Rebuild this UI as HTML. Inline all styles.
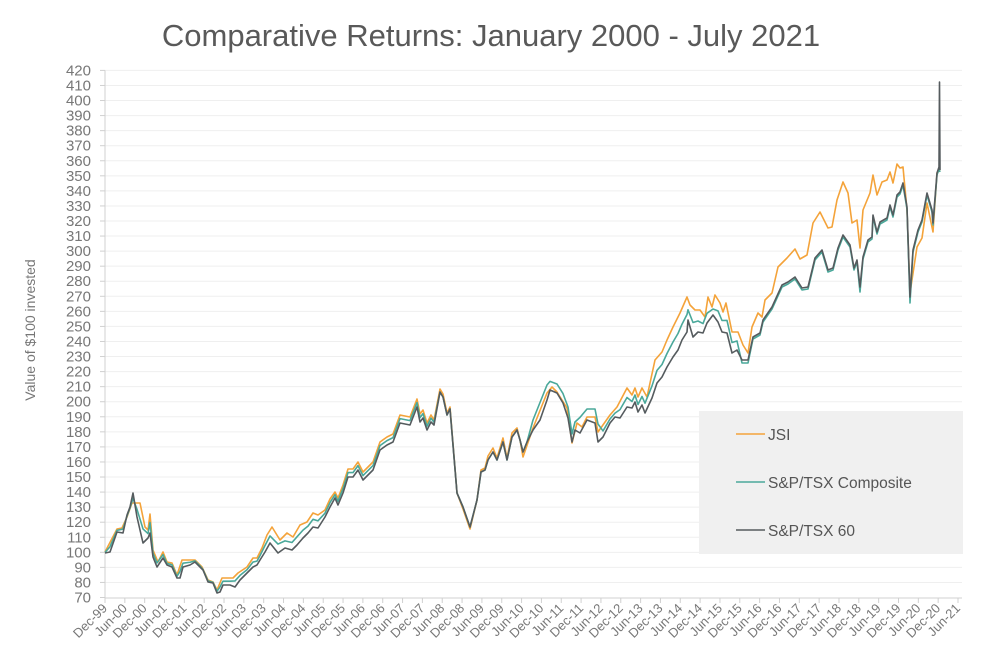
<!DOCTYPE html>
<html><head><meta charset="utf-8">
<style>
html,body{margin:0;padding:0;background:#fff;}
svg{display:block;font-family:"Liberation Sans",sans-serif;}
</style></head>
<body>
<svg id="c" width="983" height="669" xmlns="http://www.w3.org/2000/svg">
<text x="491" y="46" text-anchor="middle" font-size="31" fill="#595959">Comparative Returns: January 2000 - July 2021</text>
<text transform="translate(35,330) rotate(-90)" text-anchor="middle" font-size="14" fill="#777">Value of $100 invested</text>
<g id="grid"></g>
<g id="ylab" font-size="15" fill="#777" text-anchor="end"></g>
<g id="xlab" font-size="13" fill="#777" text-anchor="end"></g>
<rect x="699" y="411" width="264" height="143" fill="#f0f0f0"/>
<line x1="736" y1="434" x2="765" y2="434" stroke="#f4a33a" stroke-width="1.5"/>
<line x1="736" y1="482" x2="765" y2="482" stroke="#4aa89a" stroke-width="1.5"/>
<line x1="736" y1="530" x2="765" y2="530" stroke="#555b5e" stroke-width="1.5"/>
<text x="768" y="440" font-size="15.5" fill="#555">JSI</text>
<text x="768" y="488" font-size="15.5" fill="#555">S&amp;P/TSX Composite</text>
<text x="768" y="536" font-size="15.5" fill="#555">S&amp;P/TSX 60</text>
<g id="series"></g>
</svg>
<script>
var NS="http://www.w3.org/2000/svg";
function el(t,a,p,txt){var e=document.createElementNS(NS,t);for(var k in a)e.setAttribute(k,a[k]);if(txt)e.textContent=txt;p.appendChild(e);return e;}
var g=document.getElementById('grid'),yl=document.getElementById('ylab'),xl=document.getElementById('xlab'),sr=document.getElementById('series');
function Y(v){return 597.5-(v-70)*1.506;}
for(var v=70;v<=420;v+=10){var y=Y(v);
 if(v>70)el('line',{x1:105,x2:962,y1:y,y2:y,stroke:'#efefef','stroke-width':1},g);
 el('line',{x1:100,x2:105,y1:y,y2:y,stroke:'#d0d0d0','stroke-width':1},g);
 el('text',{x:91,y:y+5},yl,String(v));}
el('line',{x1:105,x2:105,y1:Y(420),y2:598,stroke:'#d0d0d0','stroke-width':1},g);
el('line',{x1:105,x2:962,y1:598,y2:598,stroke:'#d0d0d0','stroke-width':1},g);
var sp=(958-105)/43;
for(var i=0;i<=43;i++){var x=105+i*sp;var yr=(i>>1);var lab;
 if(i%2==0){lab='Dec-'+String((99+yr)%100).padStart(2,'0');}else{lab='Jun-'+String((yr+0)%100).padStart(2,'0');}
 el('line',{x1:x,x2:x,y1:598,y2:603,stroke:'#d0d0d0'},g);
 el('text',{x:x+3,y:609,transform:'rotate(-45 '+(x+3)+' 609)'},xl,lab);}
var dark=[[105,553],[110,552],[117,532],[123,533],[127,515],[130,507],[133,493],[137,517],[143,543],[148,538],[150,533],[153,557],[157,567],[163,558],[167,565],[172,567],[177,578],[180,578],[183,567],[190,565],[195,562],[200,567],[203,570],[208,582],[213,583],[217,593],[220,592],[223,585],[230,585],[235,587],[240,580],[247,573],[253,567],[257,565],[260,560],[265,552],[270,543],[278,553],[285,548],[292,550],[297,545],[303,538],[308,533],[313,527],[318,528],[325,517],[330,507],[335,498],[338,505],[343,493],[348,477],[353,477],[358,470],[363,480],[368,475],[373,470],[380,450],[387,445],[393,442],[400,423],[410,425],[417,407],[420,422],[423,418],[427,430],[431,422],[434,425],[440,392],[443,397],[447,415],[450,409],[457,493],[463,507],[470,527],[477,500],[481,472],[485,470],[488,460],[493,452],[497,460],[503,442],[507,460],[512,437],[517,430],[520,440],[523,452],[527,442],[533,430],[540,420],[547,400],[550,390],[557,393],[563,403],[568,418],[572,442],[575,430],[580,433],[587,420],[595,423],[598,442],[603,437],[610,423],[615,417],[620,418],[627,407],[632,408],[635,402],[638,412],[642,405],[645,413],[652,398],[657,383],[662,377],[667,367],[673,357],[678,350],[682,340],[687,332],[688,320],[693,337],[698,332],[703,333],[707,323],[713,315],[718,322],[722,332],[727,333],[732,353],[737,350],[742,360],[748,360],[753,337],[760,333],[763,320],[772,307],[782,285],[788,282],[795,277],[802,288],[808,287],[815,258],[822,250],[828,270],[833,268],[838,248],[843,235],[850,245],[854,268],[857,260],[860,287],[863,257],[868,240],[872,237],[873,215],[877,232],[880,222],[887,218],[890,205],[893,215],[897,195],[900,192],[903,183],[907,207],[910,297],[913,250],[918,230],[922,220],[927,193],[932,210],[933,223],[937,173],[939,167],[939.5,82],[940,170]];
var jsi=[[105,552],[117,529],[122,528],[127,517],[132,503],[137,503],[140,503],[145,527],[148,530],[150,514],[153,550],[158,562],[163,552],[167,562],[172,563],[177,575],[182,560],[188,560],[195,560],[202,567],[208,580],[213,582],[217,590],[222,578],[233,578],[238,573],[247,567],[253,558],[257,558],[262,548],[267,535],[272,527],[280,540],[287,533],[293,537],[300,525],[307,522],[313,513],[318,515],[325,510],[330,499],[335,492],[338,498],[343,485],[348,469],[353,469],[358,462],[363,472],[368,467],[373,462],[380,442],[387,437],[393,434],[400,415],[410,417],[417,399],[420,414],[423,410],[427,423],[431,415],[434,420],[440,389],[443,394],[447,413],[450,407],[457,493],[463,509],[470,529],[477,500],[481,470],[485,468],[488,456],[493,448],[497,458],[503,438],[507,458],[512,433],[517,428],[520,440],[523,457],[533,428],[547,393],[552,387],[557,392],[567,408],[572,443],[577,423],[582,427],[587,417],[595,417],[598,432],[610,415],[617,407],[627,388],[632,395],[635,388],[638,397],[642,388],[647,397],[655,360],[662,352],[667,340],[673,327],[680,313],[687,297],[690,305],[695,310],[700,310],[705,317],[708,297],[712,307],[715,295],[720,303],[723,312],[726,303],[732,332],[738,332],[743,345],[748,353],[752,327],[758,313],[762,317],[765,300],[772,293],[778,267],[787,258],[795,249],[800,259],[807,255],[813,223],[820,212],[828,228],[832,227],[837,200],[843,182],[848,193],[852,223],[857,220],[860,248],[863,210],[870,193],[873,175],[877,195],[882,182],[887,180],[890,172],[893,183],[897,164],[900,168],[903,167],[907,210],[910,293],[917,247],[922,238],[927,203],[933,232],[937,173],[940,170]];
function interp(a,x){if(x<=a[0][0])return a[0][1];for(var i=1;i<a.length;i++){if(a[i][0]>=x){var p=a[i-1],q=a[i];if(q[0]==p[0])return q[1];return p[1]+(q[1]-p[1])*(x-p[0])/(q[0]-p[0]);}}return a[a.length-1][1];}
var comp=[];
for(var k=0;k<dark.length;k++){var x=dark[k][0],d=dark[k][1];if(x>939&&x<940)continue;var j=interp(jsi,x),c;
 if(x<440)c=d+0.55*(j-d);else if(x<533)c=d;else if(x<600)c=Math.min(d,j)-8;else if(x<745)c=d+0.5*(j-d);else c=d+2;
 if(x>909&&x<911)c=303;if(x>859&&x<861)c=292;if(x>741&&x<749)c=d+3;
 comp.push([x,c]);}
function path(a,col,w){el('polyline',{points:a.map(function(p){return p[0]+','+p[1]}).join(' '),fill:'none',stroke:col,'stroke-width':w,'stroke-linejoin':'round'},sr);}
path(jsi,'#f4a33a',1.6);path(comp,'#4aa89a',1.6);path(dark,'#555b5e',1.6);
</script>
</body></html>
